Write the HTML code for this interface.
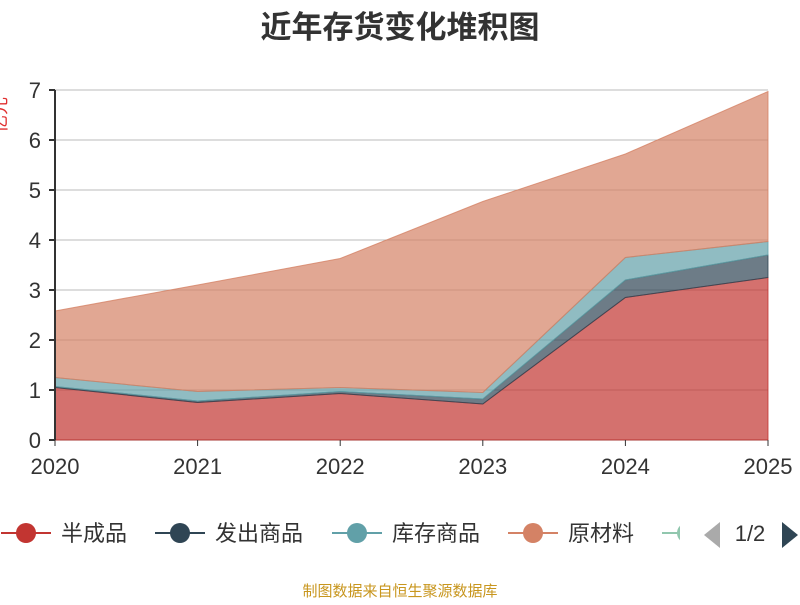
<!DOCTYPE html>
<html><head><meta charset="utf-8"><style>
body{margin:0;background:#fff;width:800px;height:600px;overflow:hidden;font-family:"Liberation Sans","Noto Sans CJK SC",sans-serif}
</style></head><body>
<svg id="c" width="800" height="600" xmlns="http://www.w3.org/2000/svg">
<text x="400" y="38" text-anchor="middle" font-size="31" font-weight="bold" fill="#333" font-family="Liberation Sans, Noto Sans CJK SC, sans-serif">近年存货变化堆积图</text>
<text transform="translate(6,115) rotate(-90)" text-anchor="middle" font-size="18" fill="#e03030" font-family="Liberation Sans, Noto Sans CJK SC, sans-serif">亿元</text>
<g id="grid"></g><g id="areas"></g><g id="axes"></g><g id="legend"></g>
<text x="400" y="596" text-anchor="middle" font-size="15" fill="#c8961e" font-family="Liberation Sans, Noto Sans CJK SC, sans-serif">制图数据来自恒生聚源数据库</text>
</svg>
<script>
const years=['2020','2021','2022','2023','2024','2025'];
const banchengpin=[1.05,0.75,0.93,0.72,2.85,3.25];
const fachu=[0.02,0.03,0.04,0.10,0.35,0.45];
const kucun=[0.18,0.19,0.08,0.13,0.45,0.27];
const yuancailiao=[1.33,2.13,2.58,3.82,2.07,3.00];
const yTicks=[0,1,2,3,4,5,6,7];
const NS='http://www.w3.org/2000/svg';
const x0=55,x1=768,y0=440,yTop=90,yMax=7;
const X=i=>x0+(x1-x0)*i/(years.length-1);
const Y=v=>y0-(y0-yTop)*v/yMax;
function mk(t,a,p){const e=document.createElementNS(NS,t);for(const k in a)e.setAttribute(k,a[k]);p.appendChild(e);return e;}
const grid=document.getElementById('grid'),axes=document.getElementById('axes'),areas=document.getElementById('areas'),leg=document.getElementById('legend');
yTicks.forEach(v=>{
 const l=mk('line',{x1:x0,x2:x1,y1:Y(v),y2:Y(v),stroke:v===0?'#333':'#bbb','stroke-width':1},grid);
 
 
 const tk=mk('line',{x1:x0-6,x2:x0,y1:Y(v),y2:Y(v),stroke:'#333','stroke-width':2},axes);
 
 
 const t=mk('text',{x:x0-14,y:Y(v)+8,'text-anchor':'end','font-size':22,fill:'#333'},axes);
 t.textContent=v;
 
 
});
const ya=mk('line',{x1:x0,x2:x0,y1:yTop,y2:y0,stroke:'#333','stroke-width':2},axes);


years.forEach((yr,i)=>{
 const tk=mk('line',{x1:X(i),x2:X(i),y1:y0,y2:y0+6,stroke:'#333','stroke-width':1},axes);
 
 
 const t=mk('text',{x:X(i),y:y0+34,'text-anchor':'middle','font-size':22,fill:'#333'},axes);
 t.textContent=yr;
 
 
});
const series=[['半成品',banchengpin,'#c23531'],['发出商品',fachu,'#2f4554'],['库存商品',kucun,'#61a0a8'],['原材料',yuancailiao,'#d48265']];
let base=years.map(()=>0);
series.forEach(([name,vals,col])=>{
 const top=base.map((b,i)=>b+vals[i]);
 let d='M'+top.map((v,i)=>X(i)+','+Y(v)).join('L');
 for(let i=years.length-1;i>=0;i--)d+='L'+X(i)+','+Y(base[i]);
 d+='Z';
 const p=mk('path',{d:d,fill:col,'fill-opacity':0.7,stroke:col,'stroke-opacity':0.8,'stroke-width':1},areas);
 
 
 base=top;
});
const legItems=[['半成品','#c23531',1],['发出商品','#2f4554',155],['库存商品','#61a0a8',332],['原材料','#d48265',508],['','#91c7ae',662]];
legItems.forEach(([n,c,x])=>{
 const g=mk('g',{},leg);
 
 
 mk('line',{x1:x,x2:x+50,y1:533,y2:533,stroke:c,'stroke-width':2},g);
 mk('circle',{cx:x+25,cy:533,r:10,fill:c},g);
 if(n){const t=mk('text',{x:x+60,y:541,'font-size':22,fill:'#333'},g);t.textContent=n;}
});
const cover=mk('rect',{x:680,y:515,width:120,height:40,fill:'#fff'},leg);


const pl=mk('path',{d:'M720,522L704,535L720,548Z',fill:'#aaa'},leg);


const pt=mk('text',{x:750,y:541,'text-anchor':'middle','font-size':22,fill:'#333'},leg);
pt.textContent='1/2';


const pr=mk('path',{d:'M782,522L798,535L782,548Z',fill:'#2f4554'},leg);


</script>
</body></html>
